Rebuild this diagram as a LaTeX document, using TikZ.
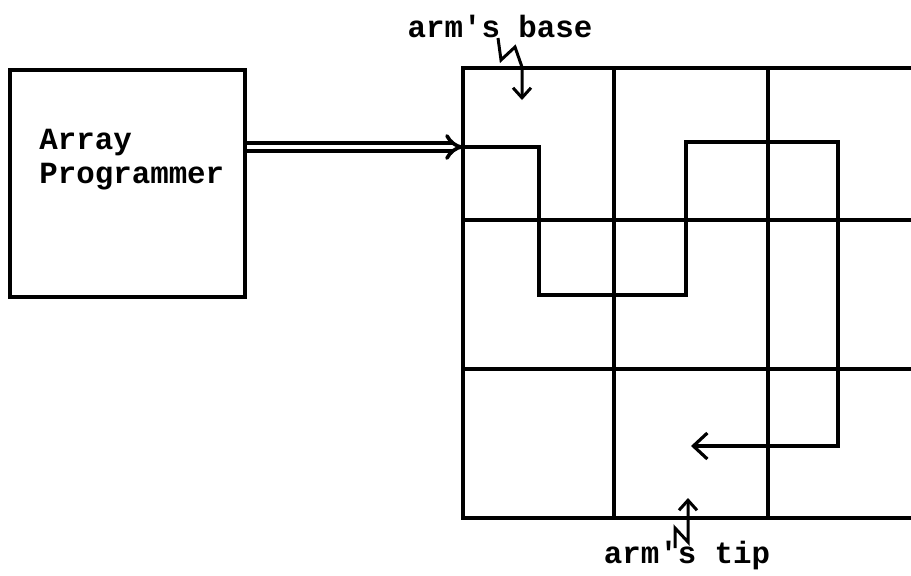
\documentclass[tikz,border=0pt]{standalone}
\usepackage{fontspec}
\setmonofont{Liberation Mono}
\usetikzlibrary{arrows.meta,positioning}

\begin{document}
\begin{tikzpicture}[
    x=0.5pt, y=-0.5pt,
    labeltext/.style={font=\fontsize{15.4}{17}\selectfont\ttfamily\bfseries,
                      inner sep=0pt, align=left},
    progbox/.style={draw, line width=2pt, minimum width=117.5pt,
                    minimum height=113.5pt, inner sep=0pt},
    gridline/.style={line width=2.4pt, line cap=rect},
    armline/.style={line width=1.6pt, line join=miter},
    feedarrow/.style={-{Implies}, double, line width=1.8pt, double distance=2.4pt},
    zigarrow/.style={-{Straight Barb[length=5pt, width=9pt]}, line width=1.5pt},
  ]
  \useasboundingbox (0,0) rectangle (911,575);

  % === Array programmer ===
  \node[progbox] (prog) at (127.5,183.5) {};
  \node[labeltext, anchor=west] (progname) at (39,160) {Array\\Programmer};

  % === Array grid ===
  \foreach \x in {463,614,768}
    \draw[gridline] (\x,68) -- (\x,518);
  \foreach \y in {68,220,369,518}
    \draw[gridline] (463,\y) -- (911,\y);

  \coordinate (gin) at (463,147);
  \draw[feedarrow] (prog.east |- gin) -- (gin);

  % Arm path
  \draw[armline, -{Straight Barb[length=7pt, width=13pt]}]
    (gin) -- (539,147) -- (539,295) -- (686,295) -- (686,142)
    -- (838,142) -- (838,446) -- (691,446);

  % Labels
  \node[labeltext] (basetext) at (500,26) {arm's base};
  \draw[zigarrow] (498,38) -- ++(3,22) -- ++(14,-13) -- ++(7,20) -- ++(0,33);

  \node[labeltext] (tiptext) at (687,556) {arm's tip};
  \coordinate (tipfoot) at (675,548);
  \draw[zigarrow] (tipfoot) -- ++(0,-20) -- ++(13,14) -- ++(0,-44);

\end{tikzpicture}
\end{document}
